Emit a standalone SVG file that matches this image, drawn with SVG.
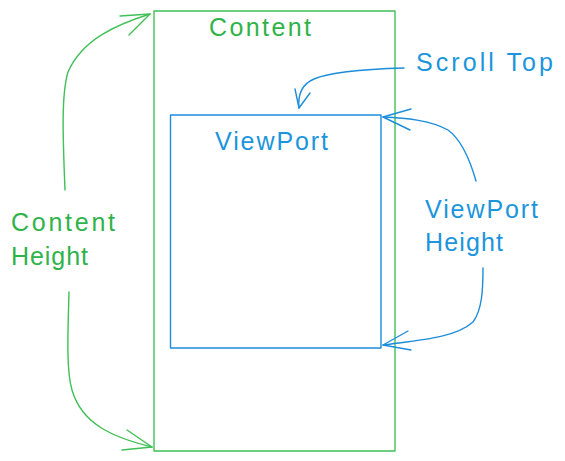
<svg xmlns="http://www.w3.org/2000/svg" width="565" height="461" viewBox="0 0 565 461">
<style>
.g{stroke:#40c057;fill:none;stroke-width:1.4;stroke-linecap:round;stroke-linejoin:round}
.b{stroke:#1c8ddb;fill:none;stroke-width:1.4;stroke-linecap:round;stroke-linejoin:round}
.tg{fill:#2fb34a;font-family:"Liberation Sans",Arial,sans-serif;font-size:25px}
.tb{fill:#1c95dc;font-family:"Liberation Sans",Arial,sans-serif;font-size:25px}
</style>
<rect width="565" height="461" fill="#ffffff"/>
<g id="content">
<rect class="g" x="154" y="11" width="241" height="440"/>
<text class="tg" x="209" y="36" textLength="102" lengthAdjust="spacing">Content</text>
</g>
<g id="viewport">
<rect class="b" x="170.5" y="115" width="210.5" height="233"/>
<text class="tb" x="215" y="150" textLength="113" lengthAdjust="spacing">ViewPort</text>
</g>
<g id="scroll-top-label">
<text class="tb" x="416" y="71" textLength="137" lengthAdjust="spacing">Scroll Top</text>
</g>
<g id="content-height-label">
<text class="tg" x="11" y="231" textLength="104" lengthAdjust="spacing">Content</text>
<text class="tg" x="11" y="265" textLength="77" lengthAdjust="spacing">Height</text>
</g>
<g id="viewport-height-label">
<text class="tb" x="425" y="218" textLength="113" lengthAdjust="spacing">ViewPort</text>
<text class="tb" x="425" y="251" textLength="78" lengthAdjust="spacing">Height</text>
</g>
<g id="connectors">
<path class="g" d="M65 190 C63 140 61 95 68 72 C82 40 115 25 150 14"/>
<path class="g" d="M120 16 L150 14 L129 35"/>
<path class="g" d="M69 292 C68 330 66 370 72 390 C82 425 115 438 152 447"/>
<path class="g" d="M127 430 L152 447 L122 450"/>
<path class="b" d="M404 68 C370 69 330 72 314 79 C300 85 298 98 299 108"/>
<path class="b" d="M295 89 L299 108 L310 93"/>
<path class="b" d="M476 181 C470 160 462 140 448 130 C430 120 405 118 383 117"/>
<path class="b" d="M411 109 L383 117 L410 130"/>
<path class="b" d="M483 268 C483 290 482 310 473 322 C455 338 420 340 383 345"/>
<path class="b" d="M408 331 L383 345 L411 350"/>
</g>
</svg>
